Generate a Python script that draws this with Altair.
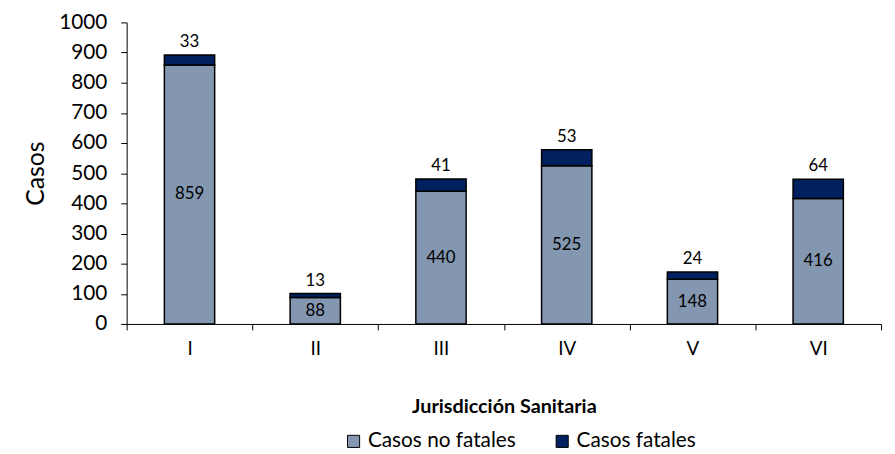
import altair as alt
import pandas as pd

categories = ["I", "II", "III", "IV", "V", "VI"]
no_fatales = [859, 88, 440, 525, 148, 416]
fatales = [33, 13, 41, 53, 24, 64]
series = ["Casos no fatales", "Casos fatales"]
colors = ["#8497B0", "#002060"]
y_ticks = list(range(0, 1001, 100))

rows = []
for c, nf, f in zip(categories, no_fatales, fatales):
    rows.append({"jur": c, "serie": series[0], "casos": nf, "orden": 0})
    rows.append({"jur": c, "serie": series[1], "casos": f, "orden": 1})
df = pd.DataFrame(rows)

lab = pd.DataFrame({"jur": categories, "nf": no_fatales, "f": fatales})
lab["mid"] = lab["nf"] / 2
lab["total"] = lab["nf"] + lab["f"]

font = "Lato"

x_scale = alt.Scale(paddingInner=0, paddingOuter=0)
x_axis = alt.Axis(labelAngle=0, tickBand="extent", labelFontSize=19, labelFont=font,
                  labelColor="black", labelPadding=10, tickSize=6, tickColor="black",
                  domainColor="black", titleFont=font, titleFontSize=20,
                  titleFontWeight="bold", titleColor="black", titlePadding=39)
y_scale = alt.Scale(domain=[0, 1000], nice=False)
y_axis = alt.Axis(values=y_ticks, format="d", labelOverlap=False,
                  grid=False, labelFontSize=21, labelFont=font,
                  labelColor="black", tickSize=6, tickColor="black",
                  domainColor="black", titleFont=font, titleFontSize=25,
                  titleFontWeight="normal", titleColor="black", titlePadding=10,
                  labelPadding=14)


def xenc():
    return alt.X("jur:N", sort=categories, title="Jurisdicción Sanitaria",
                 scale=x_scale, axis=x_axis)


def yenc(field, **kw):
    return alt.Y(field, scale=y_scale, axis=y_axis, title="Casos", **kw)


bars = alt.Chart(df).mark_bar(
    width=alt.RelativeBandSize(0.4), stroke="black", strokeWidth=1.5
).encode(
    x=xenc(),
    y=yenc("casos:Q", stack="zero"),
    color=alt.Color("serie:N", scale=alt.Scale(domain=series, range=colors),
                    legend=alt.Legend(title=None, orient="none", direction="horizontal",
                                      legendX=219, legendY=413,
                                      symbolType="square", symbolSize=150,
                                      symbolStrokeColor="black", symbolStrokeWidth=1,
                                      labelFont=font, labelFontSize=21, labelColor="black",
                                      columnPadding=36, labelOffset=4)),
    order=alt.Order("orden:Q"),
)

mid_text = alt.Chart(lab).mark_text(font=font, fontSize=17, color="black").encode(
    x=xenc(), y=yenc("mid:Q"), text="nf:Q",
)
top_text = alt.Chart(lab).mark_text(font=font, fontSize=17, color="black",
                                    baseline="bottom", dy=-4).encode(
    x=xenc(), y=yenc("total:Q"), text="f:Q",
)

chart = alt.layer(bars, mid_text, top_text).properties(
    width=763, height=305, background="white",
    padding={"left": 16, "top": 1, "right": 5, "bottom": 5},
).configure_view(stroke=None)

chart.save("out.html", embed_options={"renderer": "svg", "actions": False})
